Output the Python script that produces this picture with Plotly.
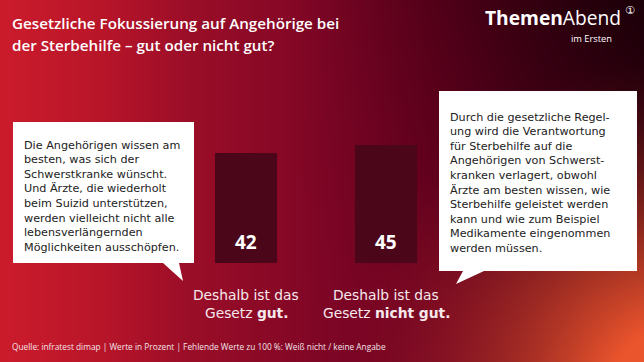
import base64, struct, zlib
import plotly.graph_objects as go

# ---- data ----
categories = ["Deshalb ist das<br>Gesetz <b>gut.</b>", "Deshalb ist das<br>Gesetz <b>nicht gut.</b>"]
values = [42, 45]
title_lines = ["Gesetzliche Fokussierung auf Angehörige bei", "der Sterbehilfe – gut oder nicht gut?"]
left_quote = ["Die Angehörigen wissen am", "besten, was sich der", "Schwerstkranke wünscht.",
              "Und Ärzte, die wiederholt", "beim Suizid unterstützen,", "werden vielleicht nicht alle",
              "lebensverlängernden", "Möglichkeiten ausschöpfen."]
right_quote = ["Durch die gesetzliche Regel-", "ung wird die Verantwortung", "für Sterbehilfe auf die",
               "Angehörigen von Schwerst-", "kranken verlagert, obwohl", "Ärzte am besten wissen, wie",
               "Sterbehilfe geleistet werden", "kann und wie zum Beispiel", "Medikamente eingenommen",
               "werden müssen."]
footer_text = "Quelle: infratest dimap | Werte in Prozent | Fehlende Werte zu 100 %: Weiß nicht / keine Angabe"

W, H = 644, 362

# ---- background gradient image ----
def lerp(a, b, t):
    return tuple(a[i] + (b[i] - a[i]) * t for i in range(3))

stops = [(0.0, (204, 28, 44)), (0.15, (186, 22, 42)), (0.3, (154, 14, 40)), (0.5, (128, 6, 38)),
         (0.7, (104, 0, 32)), (0.85, (80, 0, 26)), (1.0, (62, 0, 20))]

def base(u):
    for (u0, c0), (u1, c1) in zip(stops[:-1], stops[1:]):
        if u <= u1:
            return lerp(c0, c1, (u - u0) / (u1 - u0))
    return stops[-1][1]

def color(px_, py_):
    u, v = px_ / W, py_ / H
    c = base(u)
    d = max(0.0, (u - 0.45) / 0.55) * max(0.0, 1 - v * 1.2)
    c = tuple(ch * (1 - 0.55 * d) for ch in c)
    dx = (1.05 - u) * W / H
    dy = (1.08 - v)
    dist = (dx * dx + dy * dy) ** 0.5
    g = max(0.0, 1 - dist / 0.95) ** 1.6
    c = lerp(c, (235, 85, 45), min(1.0, g * 1.4))
    return tuple(int(max(0, min(255, ch))) for ch in c)

iw, ih = 161, 91
raw = b""
for j in range(ih):
    row = b"\x00"
    for i in range(iw):
        row += bytes(color((i + 0.5) * W / iw, (j + 0.5) * H / ih))
    raw += row

def chunk(t, d):
    return struct.pack(">I", len(d)) + t + d + struct.pack(">I", zlib.crc32(t + d) & 0xffffffff)

png = b"\x89PNG\r\n\x1a\n" + chunk(b"IHDR", struct.pack(">IIBBBBB", iw, ih, 8, 2, 0, 0, 0)) \
      + chunk(b"IDAT", zlib.compress(raw, 9)) + chunk(b"IEND", b"")
bg_uri = "data:image/png;base64," + base64.b64encode(png).decode()

def px(x):
    return x / W

def py(y):
    return 1 - y / H

FONT = "Open Sans"
BODY = "DejaVu Sans"

fig = go.Figure()
fig.add_trace(go.Bar(x=categories, y=values, width=0.443, marker=dict(color="#4b0619", line=dict(width=0)),
                     hoverinfo="skip"))

# value labels inside bars
for c, v in zip(categories, values):
    fig.add_annotation(x=c, y=0, text=f"<b>{v}</b>", showarrow=False, yanchor="bottom", yshift=6,
                       font=dict(family=FONT, size=19, color="white"))

# category labels below bars (one annotation per line)
for c in categories:
    for k, line in enumerate(c.split("<br>")):
        fig.add_annotation(x=c, y=0, text=line, showarrow=False, yanchor="middle", yshift=-(32 + 18 * k),
                           font=dict(family=BODY, size=13.8, color="#f6e8ec"))

# callout boxes
def box_path(x0, y0, x1, y1, tail):
    (a, b), (tx, ty), (c2, d2) = tail
    return (f"M{px(x0)},{py(y0)} L{px(x1)},{py(y0)} L{px(x1)},{py(y1)} "
            f"L{px(c2)},{py(d2)} L{px(tx)},{py(ty)} L{px(a)},{py(b)} L{px(x0)},{py(y1)} Z")

shapes = [
    dict(type="path", xref="paper", yref="paper", path=box_path(13, 122, 194, 263, ((163, 263), (183, 281), (179, 263))),
         fillcolor="white", line=dict(width=0), layer="above"),
    dict(type="path", xref="paper", yref="paper", path=box_path(439, 91, 637, 271, ((463, 271), (456, 284), (484, 271))),
         fillcolor="white", line=dict(width=0), layer="above"),
]

LS = 14.6
for k, line in enumerate(left_quote):
    fig.add_annotation(xref="paper", yref="paper", x=px(22), y=py(145 + LS * k), xanchor="left", yanchor="middle",
                       text=line, align="left", showarrow=False,
                       font=dict(family=BODY, size=11.2, color="#222222"))
for k, line in enumerate(right_quote):
    fig.add_annotation(xref="paper", yref="paper", x=px(448), y=py(117 + LS * k), xanchor="left", yanchor="middle",
                       text=line, align="left", showarrow=False,
                       font=dict(family=BODY, size=11.2, color="#222222"))

# title
for k, line in enumerate(title_lines):
    fig.add_annotation(xref="paper", yref="paper", x=px(10), y=py(23 + 22 * k), xanchor="left", yanchor="middle",
                       text=line, align="left", showarrow=False,
                       font=dict(family=FONT, size=15.2, color="white", weight=600))
# logo
fig.add_annotation(xref="paper", yref="paper", x=px(623), y=py(18), xanchor="right", yanchor="middle",
                   text="<b>Themen</b>Abend", showarrow=False,
                   font=dict(family=FONT, size=19.2, color="white"))
fig.add_annotation(xref="paper", yref="paper", x=px(630), y=py(11), xanchor="center", yanchor="middle",
                   text="①", showarrow=False, font=dict(family="DejaVu Sans", size=11, color="white"))
fig.add_annotation(xref="paper", yref="paper", x=px(614), y=py(38.5), xanchor="right", yanchor="middle",
                   text="im Ersten", showarrow=False, font=dict(family=FONT, size=9.3, color="white"))
# footer
fig.add_annotation(xref="paper", yref="paper", x=px(10), y=py(346), xanchor="left", yanchor="middle",
                   text=footer_text, showarrow=False, font=dict(family=FONT, size=8.3, color="#f2e4e8"))

fig.update_layout(
    width=W, height=H, margin=dict(l=0, r=0, t=0, b=0),
    paper_bgcolor="#8a0a28", plot_bgcolor="rgba(0,0,0,0)", showlegend=False,
    images=[dict(source=bg_uri, xref="paper", yref="paper", x=0, y=1, sizex=1, sizey=1,
                 xanchor="left", yanchor="top", sizing="stretch", layer="below")],
    shapes=shapes,
    xaxis=dict(domain=[px(176), px(456)], range=[-0.5, 1.5], showgrid=False, zeroline=False, showline=False,
               ticks="", showticklabels=False),
    yaxis=dict(domain=[py(263), py(263 - 60 * 2.62)], range=[0, 60], visible=False),
)

fig.write_html("out.html", config={"displayModeBar": False},
               post_script="document.body.style.margin='0';document.body.style.overflow='hidden';")
